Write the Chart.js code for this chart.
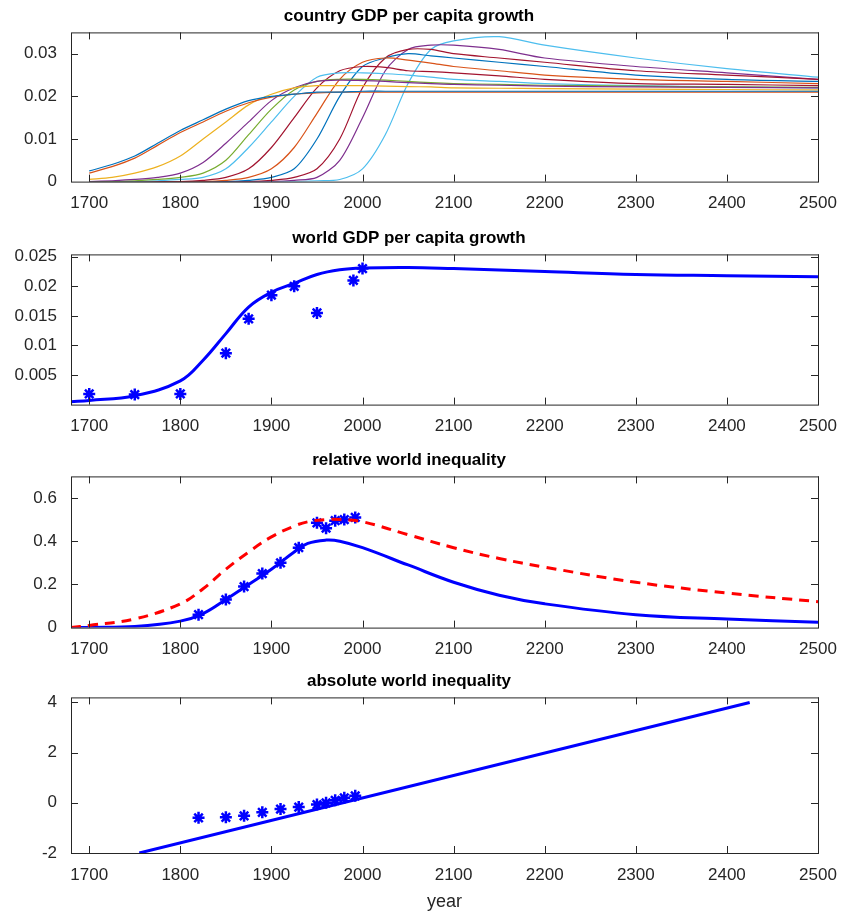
<!DOCTYPE html>
<html>
<head>
<meta charset="utf-8">
<script src="https://cdn.jsdelivr.net/npm/chart.js@4.4.1/dist/chart.umd.min.js"></script>
<style>
  body { margin: 0; background: #fff; }
  .panel { position: absolute; left: 0; width: 845px; }
</style>
</head>
<body>
<div class="panel" style="top:0;height:218px"><canvas id="c1"></canvas></div>
<div class="panel" style="top:222px;height:219px"><canvas id="c2"></canvas></div>
<div class="panel" style="top:444px;height:220px"><canvas id="c3"></canvas></div>
<div class="panel" style="top:665px;height:252px"><canvas id="c4"></canvas></div>
<script>
// ---- data ----
const countryYears = [1700,1725,1750,1775,1800,1825,1850,1875,1900,1925,1950,1975,2000,2025,2050,2075,2100,2150,2200,2300,2400,2500];
const countryGrowth = [
  [.0025,.004,.006,.009,.012,.0145,.017,.019,.020,.0205,.021,.021,.0212,.0212,.0212,.0212,.0212,.0212,.0212,.0212,.0212,.0212],
  [.002,.0035,.0055,.0085,.0115,.014,.0165,.0185,.0198,.0205,.0208,.021,.021,.021,.021,.021,.021,.021,.021,.021,.021,.021],
  [.0005,.001,.002,.0035,.006,.010,.014,.018,.0205,.022,.0225,.0225,.0225,.0224,.0223,.0222,.022,.0219,.0218,.0217,.0216,.0215],
  [0,.0002,.0005,.001,.002,.0045,.009,.014,.019,.022,.0235,.0238,.0237,.0235,.0232,.023,.0228,.0226,.0224,.0222,.0221,.022],
  [0,0,.0002,.0005,.001,.002,.005,.011,.017,.0215,.0235,.024,.024,.0238,.0235,.0232,.023,.0228,.0226,.0224,.0222,.0221],
  [0,0,0,.0002,.0005,.001,.003,.008,.014,.020,.0245,.0255,.0255,.0253,.025,.0245,.024,.0235,.023,.0225,.0222,.022],
  [0,0,0,0,0,.0003,.001,.003,.008,.015,.022,.026,.027,.0268,.026,.0258,.0255,.0248,.024,.023,.0228,.0225],
  [0,0,0,0,0,0,.0003,.001,.003,.008,.016,.024,.028,.029,.0285,.0278,.027,.026,.025,.024,.0235,.023],
  [0,0,0,0,0,0,0,.0003,.001,.003,.010,.020,.027,.029,.030,.0295,.029,.028,.027,.025,.024,.0235],
  [0,0,0,0,0,0,0,0,.0003,.001,.003,.010,.022,.029,.031,.031,.030,.029,.028,.026,.025,.024],
  [0,0,0,0,0,0,0,0,0,.0003,.001,.005,.015,.026,.031,.032,.032,.031,.029,.027,.0255,.024],
  [0,0,0,0,0,0,0,0,0,0,.0002,.0005,.003,.011,.023,.031,.033,.034,.032,.029,.0265,.0245]
];
const countryColors = ['#0072BD','#D95319','#EDB120','#7E2F8E','#77AC30','#4DBEEE','#A2142F','#D95319','#0072BD','#A2142F','#7E2F8E','#4DBEEE'];

const worldYears = [1680,1700,1750,1800,1825,1850,1875,1900,1925,1950,1975,2000,2050,2100,2200,2300,2400,2500];
const worldGrowth = [.0005,.0007,.0015,.004,.0075,.012,.0165,.019,.0205,.022,.0228,.0231,.0232,.023,.0225,.022,.0218,.0216];
const worldObsYears = [1700,1750,1800,1850,1875,1900,1925,1950,1990,2000];
const worldObsGrowth = [.0018,.0017,.0018,.0087,.0145,.0185,.020,.0155,.021,.023];

const ineqYears = [1680,1700,1750,1800,1825,1850,1875,1900,1925,1940,1960,1975,2000,2050,2100,2150,2200,2300,2400,2500];
const relIneqModel = [0,.001,.005,.03,.065,.13,.2,.27,.35,.39,.405,.40,.37,.29,.21,.15,.11,.06,.04,.025];
const relIneqAlt = [0,.01,.04,.11,.18,.27,.35,.42,.47,.49,.50,.50,.49,.43,.37,.32,.28,.21,.16,.12];
const ineqObsYears = [1820,1850,1870,1890,1910,1930,1950,1960,1970,1980,1992];
const relIneqObs = [.06,.13,.19,.25,.30,.37,.485,.46,.495,.50,.51];
const absIneqObs = [-.6,-.58,-.52,-.38,-.25,-.17,-.07,0,.1,.2,.28];
const absLineYears = [1755,2425];
const absLineValues = [-2,4];

const xTicks = [1700,1800,1900,2000,2100,2200,2300,2400,2500];

// ---- helpers ----
const FONT = 'Liberation Sans, Arial, sans-serif';
const INK = '#262626';
const pts = (xs, ys) => xs.map((x, i) => ({ x: x, y: ys[i] }));

const frame = {
  id: 'frame',
  afterDraw(chart) {
    const { ctx, chartArea: a, scales } = chart;
    ctx.save();
    ctx.strokeStyle = INK;
    ctx.lineWidth = 1;
    ctx.strokeRect(a.left + 0.5, a.top + 0.5, a.right - a.left, a.bottom - a.top);
    ctx.beginPath();
    scales.x.ticks.forEach(t => {
      const px = Math.round(scales.x.getPixelForValue(t.value)) + 0.5;
      ctx.moveTo(px, a.bottom); ctx.lineTo(px, a.bottom - 7);
      ctx.moveTo(px, a.top); ctx.lineTo(px, a.top + 7);
    });
    scales.y.ticks.forEach(t => {
      const py = Math.round(scales.y.getPixelForValue(t.value)) + 0.5;
      if (py < a.top + 1 || py > a.bottom - 1) return;
      ctx.moveTo(a.left, py); ctx.lineTo(a.left + 7, py);
      ctx.moveTo(a.right, py); ctx.lineTo(a.right - 7, py);
    });
    ctx.stroke();
    ctx.restore();
  }
};

function makePanel(id, title, datasets, y, xTitle) {
  new Chart(document.getElementById(id), {
    type: 'line',
    data: { datasets: datasets },
    options: {
      responsive: true,
      maintainAspectRatio: false,
      animation: false,
      layout: { padding: { left: 0, right: 27, top: 0, bottom: 0 } },
      plugins: {
        legend: { display: false },
        tooltip: { enabled: false },
        title: {
          display: true, text: title, color: '#000',
          font: { family: FONT, size: 17, weight: 'bold' },
          padding: { top: 6, bottom: 6 }
        }
      },
      elements: { point: { radius: 0 } },
      scales: {
        x: {
          type: 'linear', min: 1680, max: 2500,
          afterBuildTicks: s => { s.ticks = xTicks.map(v => ({ value: v })); },
          grid: { display: false },
          border: { display: false },
          ticks: { color: INK, font: { family: FONT, size: 17 }, padding: 4, maxRotation: 0,
                   callback: v => String(v) },
          title: xTitle ? { display: true, text: xTitle, color: INK, font: { family: FONT, size: 18 }, padding: { top: 2 } } : { display: false }
        },
        y: {
          min: y.min, max: y.max,
          afterBuildTicks: s => { s.ticks = y.ticks.map(v => ({ value: v })); },
          afterFit: s => { s.width = 71; },
          grid: { display: false },
          border: { display: false },
          ticks: { color: INK, font: { family: FONT, size: 17 }, padding: 6,
                   callback: v => String(v) }
        }
      }
    },
    plugins: [frame]
  });
}

// ---- panel 1 ----
makePanel('c1', 'country GDP per capita growth',
  countryGrowth.map((g, i) => ({
    data: pts(countryYears, g), borderColor: countryColors[i], borderWidth: 1.2, tension: 0.3, fill: false
  })),
  { min: 0, max: 0.035, ticks: [0, 0.01, 0.02, 0.03] });

// ---- panel 2 ----
makePanel('c2', 'world GDP per capita growth', [
  { data: pts(worldYears, worldGrowth), borderColor: '#0000ff', borderWidth: 3, tension: 0.4 },
  { data: pts(worldObsYears, worldObsGrowth), showLine: false, pointStyle: 'star', pointRadius: 6,
    borderColor: '#0000ff', pointBorderWidth: 2.5 }
], { min: 0, max: 0.0254, ticks: [0.005, 0.01, 0.015, 0.02, 0.025] });

// ---- panel 3 ----
makePanel('c3', 'relative world inequality', [
  { data: pts(ineqYears, relIneqAlt), borderColor: '#ff0000', borderWidth: 3, borderDash: [10, 7], tension: 0.4 },
  { data: pts(ineqYears, relIneqModel), borderColor: '#0000ff', borderWidth: 3, tension: 0.4 },
  { data: pts(ineqObsYears, relIneqObs), showLine: false, pointStyle: 'star', pointRadius: 6,
    borderColor: '#0000ff', pointBorderWidth: 2.5 }
], { min: 0, max: 0.7, ticks: [0, 0.2, 0.4, 0.6] });

// ---- panel 4 ----
makePanel('c4', 'absolute world inequality', [
  { data: pts(absLineYears, absLineValues), borderColor: '#0000ff', borderWidth: 3 },
  { data: pts(ineqObsYears, absIneqObs), showLine: false, pointStyle: 'star', pointRadius: 6,
    borderColor: '#0000ff', pointBorderWidth: 2.5 }
], { min: -2, max: 4.2, ticks: [-2, 0, 2, 4] }, 'year');
</script>
</body>
</html>
